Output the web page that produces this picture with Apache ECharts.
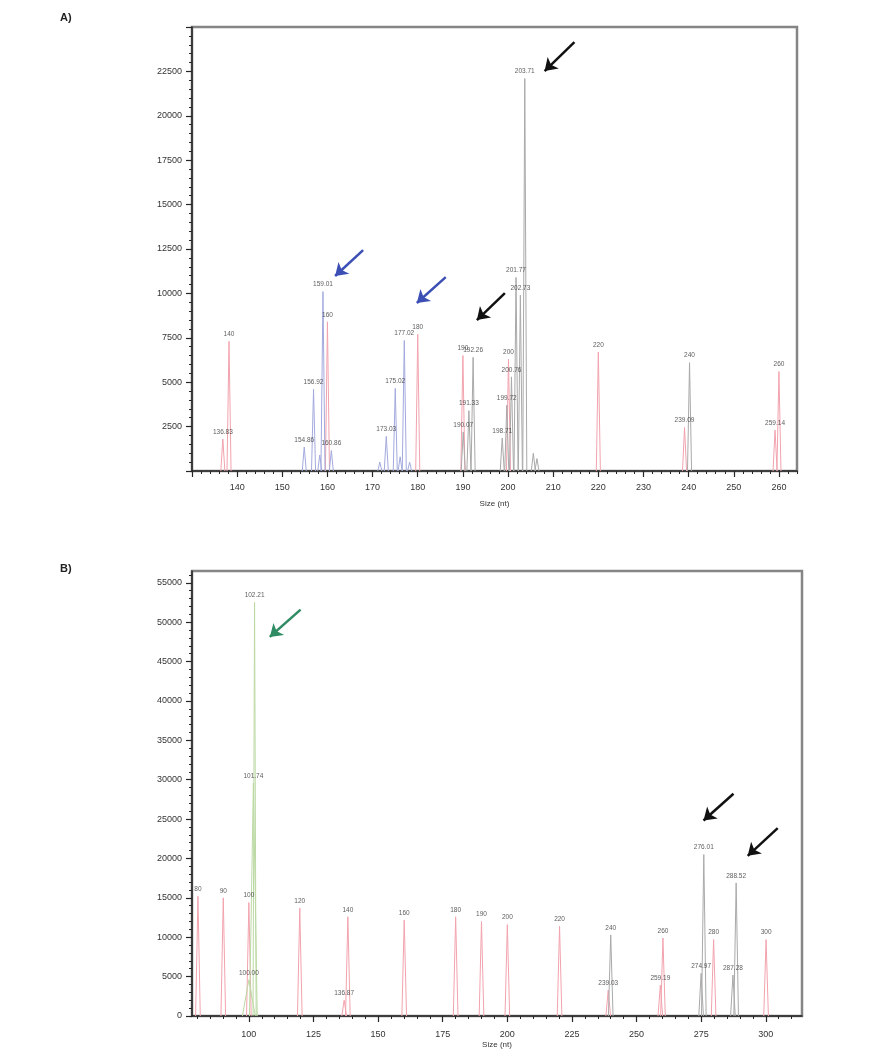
<!DOCTYPE html>
<html><head><meta charset="utf-8">
<script src="https://cdn.jsdelivr.net/npm/echarts@6/dist/echarts.min.js"></script>
<style>html,body{margin:0;padding:0;background:#fff}#c{width:876px;height:1053px}</style>
</head><body><div id="c"></div>
<script>
// ---------------- Panel A data ----------------
const aRedSizes   = [136.83, 138.2, 160, 180, 190, 200.1, 220, 239.09, 259.14, 260];
const aRedHeights = [1800, 7300, 8400, 7700, 6500, 6300, 6700, 2450, 2300, 5600];
const aRedLabels  = ["136.83","140","160","180","190","200","220","239.09","259.14","260"];

const aBlueSizes   = [154.86, 156.92, 158.3, 159.01, 160.86, 171.6, 173.03, 175.02, 176.1, 177.02, 178.2];
const aBlueHeights = [1350, 4600, 900, 10100, 1150, 500, 1950, 4650, 800, 7350, 500];
const aBlueLabels  = ["154.86","156.92","","159.01","160.86","","173.03","175.02","","177.02",""];

const aGraySizes   = [190.07, 191.33, 192.26, 198.71, 199.72, 200.76, 201.77, 202.73, 203.71, 205.6, 206.4, 240.2];
const aGrayHeights = [2200, 3400, 6400, 1850, 3700, 5300, 10900, 9900, 22100, 1000, 700, 6100];
const aGrayLabels  = ["190.07","191.33","192.26","198.71","199.72","200.76","201.77","202.73","203.71","","","240"];

const aXTickLabels = [140,150,160,170,180,190,200,210,220,230,240,250,260];
const aYTickLabels = [2500,5000,7500,10000,12500,15000,17500,20000,22500];

// arrows: [x1, y1, x2, y2] (tail -> head) in data units
const aBlackArrows = [[214.7, 24150, 208.1, 22520], [199.3, 10020, 193.1, 8500]];
const aBlueArrows  = [[167.9, 12440, 161.7, 10980], [186.2, 10920, 179.8, 9460]];

// ---------------- Panel B data ----------------
const bRedSizes   = [80.3, 90.1, 100, 119.7, 136.87, 138.3, 160.1, 180, 190, 200, 220.2, 239.03, 259.19, 260.2, 279.8, 300.1];
const bRedHeights = [15200, 15000, 14400, 13700, 2000, 12600, 12200, 12600, 12000, 11600, 11400, 3300, 3900, 9900, 9700, 9700];
const bRedLabels  = ["80","90","100","120","136.87","140","160","180","190","200","220","239.03","259.19","260","280","300"];

const bGraySizes   = [240, 274.97, 276.01, 287.28, 288.52];
const bGrayHeights = [10300, 5400, 20500, 5200, 16900];
const bGrayLabels  = ["240","274.97","276.01","287.28","288.52"];

const bGreenSizes   = [100.0, 101.74, 102.21];
const bGreenHeights = [4600, 29600, 52500];
const bGreenLabels  = ["100.00","101.74","102.21"];

const bXTickLabels = [100,125,150,175,200,225,250,275,300];
const bYTickLabels = [0,5000,10000,15000,20000,25000,30000,35000,40000,45000,50000,55000];

const bGreenArrows = [[120.0, 51600, 108.1, 48130]];
const bBlackArrows = [[287.5, 28220, 275.9, 24820], [304.6, 23860, 293.0, 20340]];

// ---------------- rendering ----------------
const FONT = 'Liberation Sans, Arial, sans-serif';
const AXC = '#262626';
function steps(a, b, s) { const r = []; for (let v = a; v <= b + 1e-9; v += s) r.push(+v.toFixed(6)); return r; }

const chart = echarts.init(document.getElementById('c'), null, {renderer: 'canvas', width: 876, height: 1053});

function mainX(gi, min, max, labels, ticks, nameGap, margin) {
  return {
    type: 'value', gridIndex: gi, position: 'bottom', min, max,
    axisLine: {show: true, onZero: false, lineStyle: {color: AXC, width: 1.5}},
    axisTick: {show: true, inside: false, length: 6, customValues: ticks, lineStyle: {color: AXC, width: 1.2}},
    axisLabel: {show: true, customValues: labels, formatter: v => String(v), fontSize: 9, color: '#333', fontFamily: FONT, margin},
    splitLine: {show: false},
    name: 'Size (nt)', nameLocation: 'middle', nameGap,
    nameTextStyle: {fontSize: 8, color: '#333', fontFamily: FONT}
  };
}
function minorX(gi, min, max, ticks) {
  return {
    type: 'value', gridIndex: gi, position: 'bottom', min, max,
    axisLine: {show: false, onZero: false},
    axisTick: {show: true, length: 3, customValues: ticks, lineStyle: {color: AXC, width: 1}},
    axisLabel: {show: false}, splitLine: {show: false}
  };
}
function mainY(gi, min, max, labels, ticks) {
  return {
    type: 'value', gridIndex: gi, position: 'left', min, max,
    axisLine: {show: true, onZero: false, lineStyle: {color: AXC, width: 1.5}},
    axisTick: {show: true, length: 6, customValues: ticks, lineStyle: {color: AXC, width: 1.2}},
    axisLabel: {show: true, customValues: labels, formatter: v => String(v), fontSize: 9, color: '#333', fontFamily: FONT, margin: 10},
    splitLine: {show: false}
  };
}
function minorY(gi, min, max, ticks) {
  return {
    type: 'value', gridIndex: gi, position: 'left', min, max,
    axisLine: {show: false, onZero: false},
    axisTick: {show: true, length: 3, customValues: ticks, lineStyle: {color: AXC, width: 1}},
    axisLabel: {show: false}, splitLine: {show: false}
  };
}

function peakLines(gi, sizes, heights, color, hw, hwList) {
  return sizes.map((s, i) => {
    const w = (hwList && hwList[i]) || hw;
    return {
      type: 'line', xAxisIndex: gi * 2, yAxisIndex: gi * 2,
      data: [[s - w, 0], [s, heights[i]], [s + w, 0]],
      symbol: 'none', lineStyle: {color, width: 1}, silent: true, animation: false, z: 2
    };
  });
}
function peakLabels(gi, sizes, heights, labels, arrows, arrowColor) {
  const ser = {
    type: 'scatter', xAxisIndex: gi * 2, yAxisIndex: gi * 2,
    data: sizes.map((s, i) => [s, heights[i], labels[i]]),
    symbolSize: 1, itemStyle: {color: 'rgba(0,0,0,0)'},
    label: {show: true, position: 'top', distance: 3, formatter: p => p.value[2],
            fontSize: 6.5, color: '#333', fontFamily: FONT},
    silent: true, animation: false, z: 5
  };
  if (arrows) {
    ser.markLine = {
      silent: true, animation: false, symbol: ['none', 'arrow'], symbolSize: 12,
      label: {show: false}, emphasis: {disabled: true},
      lineStyle: {color: arrowColor, width: 2.5, type: 'solid'},
      itemStyle: {color: arrowColor},
      data: arrows.map(a => [{coord: [a[0], a[1]]}, {coord: [a[2], a[3]]}])
    };
  }
  return ser;
}

const RED = '#f2a3ae', BLUE = '#a3aade', GRAY = '#a9a9a9', GREEN = '#bcd9a4';

const series = [].concat(
  peakLines(0, aRedSizes, aRedHeights, RED, 0.45),
  peakLines(0, aBlueSizes, aBlueHeights, BLUE, 0.45),
  peakLines(0, aGraySizes, aGrayHeights, GRAY, 0.45),
  [peakLabels(0, aRedSizes, aRedHeights, aRedLabels),
   peakLabels(0, aBlueSizes, aBlueHeights, aBlueLabels, aBlueArrows, '#3b4fb5'),
   peakLabels(0, aGraySizes, aGrayHeights, aGrayLabels, aBlackArrows, '#111111')],
  peakLines(1, bRedSizes, bRedHeights, RED, 0.9),
  peakLines(1, bGraySizes, bGrayHeights, GRAY, 0.9),
  peakLines(1, bGreenSizes, bGreenHeights, GREEN, 0.9, [2.5, 1.5, 0.6]),
  [peakLabels(1, bRedSizes, bRedHeights, bRedLabels),
   peakLabels(1, bGraySizes, bGrayHeights, bGrayLabels, bBlackArrows, '#111111'),
   peakLabels(1, bGreenSizes, bGreenHeights, bGreenLabels, bGreenArrows, '#2e8b62')]
);

chart.setOption({
  animation: false,
  backgroundColor: '#ffffff',
  title: [
    {text: 'A)', left: 55, top: 7, textStyle: {fontSize: 11, fontWeight: 'bold', color: '#222', fontFamily: FONT}},
    {text: 'B)', left: 55, top: 558, textStyle: {fontSize: 11, fontWeight: 'bold', color: '#222', fontFamily: FONT}}
  ],
  grid: [
    {left: 192, top: 27, width: 605, height: 444, show: true, borderColor: '#858585', borderWidth: 2.5, backgroundColor: 'transparent'},
    {left: 192, top: 571, width: 610, height: 445, show: true, borderColor: '#858585', borderWidth: 2.5, backgroundColor: 'transparent'}
  ],
  xAxis: [
    mainX(0, 130, 264, aXTickLabels, steps(130, 260, 10), 29, 12),
    minorX(0, 130, 264, steps(130, 264, 2)),
    mainX(1, 78, 314, bXTickLabels, steps(100, 300, 25), 25, 14),
    minorX(1, 78, 314, steps(80, 310, 5))
  ],
  yAxis: [
    mainY(0, 0, 25000, aYTickLabels, steps(0, 25000, 2500)),
    minorY(0, 0, 25000, steps(0, 25000, 500)),
    mainY(1, 0, 56500, bYTickLabels, steps(0, 55000, 5000)),
    minorY(1, 0, 56500, steps(0, 56000, 1000))
  ],
  series
});
</script></body></html>
